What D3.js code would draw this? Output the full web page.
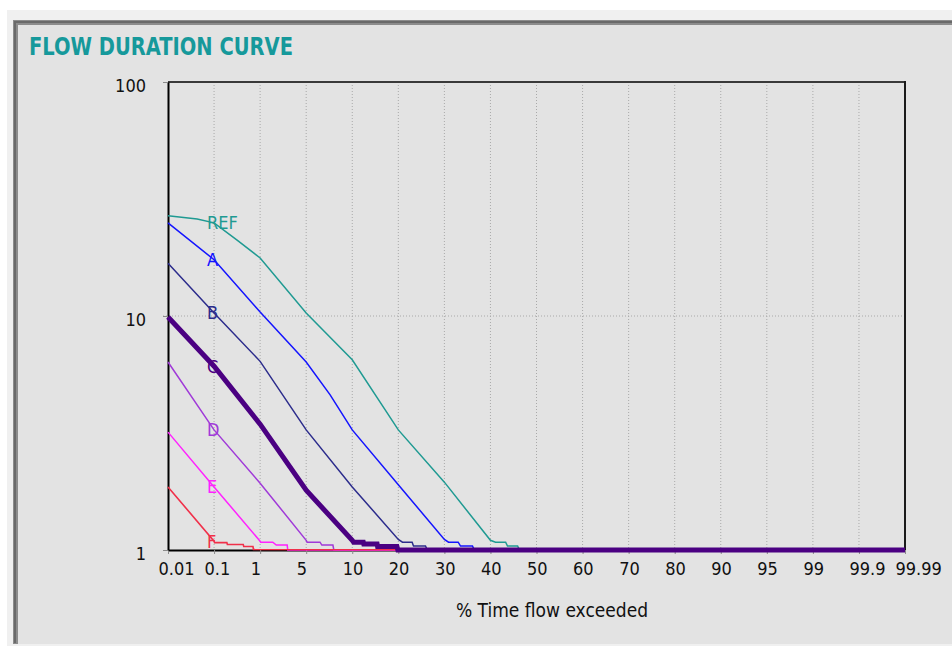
<!DOCTYPE html>
<html>
<head>
<meta charset="utf-8">
<script src="https://cdn.jsdelivr.net/npm/d3@7"></script>
<style>
html,body{margin:0;padding:0;background:#ffffff;}
svg{display:block;}
</style>
</head>
<body>
<svg id="chart" width="952" height="646"></svg>
<script>
// ---- data ----
const xTickLabels = ["0.01","0.1","1","5","10","20","30","40","50","60","70","80","90","95","99","99.9","99.99"];
const xTickValues = [0.01,0.1,1,5,10,20,30,40,50,60,70,80,90,95,99,99.9,99.99];
const yTickValues = [1,10,100];
const seriesNames = ["REF","A","B","C","D","E","F"];

// [percent of time exceeded, flow]
const refData = [[0.01,26.8],[0.067,26.0],[0.1,25.0],[0.55,21.1],[1,17.7],[5,10.3],[10,6.5],[20,3.26],[30,1.95],[40,1.10],[41.1,1.08],[43.3,1.08],[43.7,1.04],[45.9,1.04],[46.3,1.0],[99.99,1.0]];
const aData   = [[0.01,25.0],[0.1,17.4],[1,10.4],[5,6.36],[7.6,4.6],[10,3.26],[20,1.9],[30,1.11],[30.9,1.08],[33.0,1.08],[33.5,1.04],[36.1,1.04],[36.5,1.0],[99.99,1.0]];
const bData   = [[0.01,16.8],[0.1,10.3],[1,6.4],[5,3.26],[10,1.86],[20,1.11],[20.9,1.08],[23.0,1.08],[23.3,1.04],[25.9,1.04],[26.3,1.0],[99.99,1.0]];
const cData   = [[0.01,9.9],[0.1,6.1],[1,3.45],[5,1.8],[10,1.10],[10.3,1.08],[12.4,1.08],[12.5,1.06],[15.4,1.06],[15.5,1.035],[19.7,1.035],[19.9,1.0],[99.99,1.0]];
const dData   = [[0.01,6.36],[0.1,3.26],[1,1.93],[5,1.10],[5.1,1.08],[6.5,1.08],[6.7,1.05],[7.9,1.05],[8.0,1.0],[99.99,1.0]];
const eData   = [[0.01,3.19],[0.1,1.86],[1,1.09],[1.05,1.08],[2.1,1.08],[2.4,1.05],[3.35,1.05],[3.4,1.0],[99.99,1.0]];
const fData   = [[0.01,1.86],[0.1,1.09],[0.11,1.075],[0.35,1.075],[0.36,1.055],[0.67,1.055],[0.68,1.035],[0.86,1.035],[0.87,1.005],[99.99,1.0]];

const seriesData = [refData,aData,bData,cData,dData,eData,fData];
const seriesColors = ["#1f9a92","#1414ff","#2c2c8c","#4b0082","#a03ad8","#ff22ff","#f0304a"];
const seriesWidths = [1.5,1.5,1.5,5,1.5,1.5,1.6];
const drawOrder = [0,1,2,4,5,6,3];

// ---- layout ----
const svg = d3.select("#chart");
const W = 952, H = 646;
const plot = {left:168, right:905, top:82, bottom:550};
const FONT = "'DejaVu Sans Condensed','DejaVu Sans',sans-serif";

// background panels
svg.append("rect").attr("x",7).attr("y",10).attr("width",W-7).attr("height",H-10).attr("fill","#f0f0f0");
svg.append("rect").attr("x",13).attr("y",20).attr("width",W-13).attr("height",624).attr("fill","#e3e3e3");
svg.append("rect").attr("x",13).attr("y",20).attr("width",W-13).attr("height",5).attr("fill","#8c8c8c");
svg.append("rect").attr("x",13).attr("y",20).attr("width",5).attr("height",624).attr("fill","#8c8c8c");
svg.append("rect").attr("x",14).attr("y",21).attr("width",W-14).attr("height",2).attr("fill","#6a6a6a");
svg.append("rect").attr("x",14).attr("y",21).attr("width",2).attr("height",622).attr("fill","#6a6a6a");

// title
svg.append("text").attr("x",29).attr("y",55)
  .attr("font-family",FONT).attr("font-weight","bold").attr("font-size",24)
  .attr("textLength",264).attr("lengthAdjust","spacingAndGlyphs")
  .attr("fill","#16999b").text("FLOW DURATION CURVE");

// scales
const step = (plot.right - plot.left) / (xTickValues.length - 1);
const x = d3.scaleLinear().domain(xTickValues).range(xTickValues.map((d,i)=>plot.left + i*step));
const y = d3.scaleLog().domain([1,100]).range([plot.bottom, plot.top]);

// gridlines
const grid = svg.append("g");
grid.selectAll("line.v").data(xTickValues.slice(1,-1)).enter().append("line")
  .attr("x1",d=>x(d)).attr("x2",d=>x(d)).attr("y1",plot.top).attr("y2",plot.bottom)
  .attr("stroke","#a9a9a9").attr("stroke-width",1).attr("stroke-dasharray","1,2");
grid.selectAll("line.h").data([10]).enter().append("line")
  .attr("x1",plot.left-5).attr("x2",plot.right).attr("y1",d=>y(d)).attr("y2",d=>y(d))
  .attr("stroke","#a9a9a9").attr("stroke-width",1).attr("stroke-dasharray","1,2");

// frame
svg.append("line").attr("x1",plot.left).attr("x2",plot.right).attr("y1",plot.top).attr("y2",plot.top)
  .attr("stroke","#3a3a3a").attr("stroke-width",2);
svg.append("line").attr("x1",plot.right).attr("x2",plot.right).attr("y1",plot.top-1).attr("y2",plot.bottom)
  .attr("stroke","#1a1a1a").attr("stroke-width",2);

// x axis
const xAxis = d3.axisBottom(x).tickValues(xTickValues)
  .tickFormat((d,i)=>xTickLabels[i]).tickSize(4).tickSizeOuter(0);
const gx = svg.append("g").attr("transform",`translate(0,${plot.bottom})`).call(xAxis);
gx.select(".domain").attr("stroke","#000").attr("stroke-width",2);
gx.selectAll(".tick line").attr("stroke","#8a8a8a");
gx.selectAll(".tick text").attr("font-family",FONT).attr("font-size",18).attr("fill","#111")
  .attr("text-anchor","start").attr("dx",-10).attr("y",12).attr("dy","0.71em");

// y axis
const yAxis = d3.axisLeft(y).tickValues(yTickValues).tickFormat(d3.format("d")).tickSize(5).tickSizeOuter(0);
const gy = svg.append("g").attr("transform",`translate(${plot.left},0)`).call(yAxis);
gy.select(".domain").attr("stroke","#000").attr("stroke-width",2);
gy.selectAll(".tick line").attr("stroke","#8a8a8a");
gy.selectAll(".tick text").attr("font-family",FONT).attr("font-size",18).attr("fill","#111")
  .attr("x",-22).attr("dy","0.5em");

// axis title
svg.append("text").attr("x",552).attr("y",617).attr("text-anchor","middle")
  .attr("font-family",FONT).attr("font-size",19).attr("fill","#111").text("% Time flow exceeded");

// series
const line = d3.line().x(d=>x(d[0])).y(d=>y(d[1]));
const gs = svg.append("g");
drawOrder.forEach(i=>{
  gs.append("path").datum(seriesData[i]).attr("d",line)
    .attr("fill","none").attr("stroke",seriesColors[i]).attr("stroke-width",seriesWidths[i])
    .attr("stroke-linejoin","miter");
});

// labels at 0.1 %
function valueAt(data, p){
  for(let k=0;k<data.length-1;k++){
    if(p>=data[k][0] && p<=data[k+1][0]){
      const t=(x(p)-x(data[k][0]))/(x(data[k+1][0])-x(data[k][0]));
      return Math.exp(Math.log(data[k][1])+t*(Math.log(data[k+1][1])-Math.log(data[k][1])));
    }
  }
  return data[0][1];
}
seriesNames.forEach((n,i)=>{
  svg.append("text").attr("x",x(0.1)-7).attr("y",y(valueAt(seriesData[i],0.1)))
    .attr("dy","0.36em").attr("font-family",FONT).attr("font-size",18)
    .attr("fill",seriesColors[i]).text(n);
});
</script>
</body>
</html>
